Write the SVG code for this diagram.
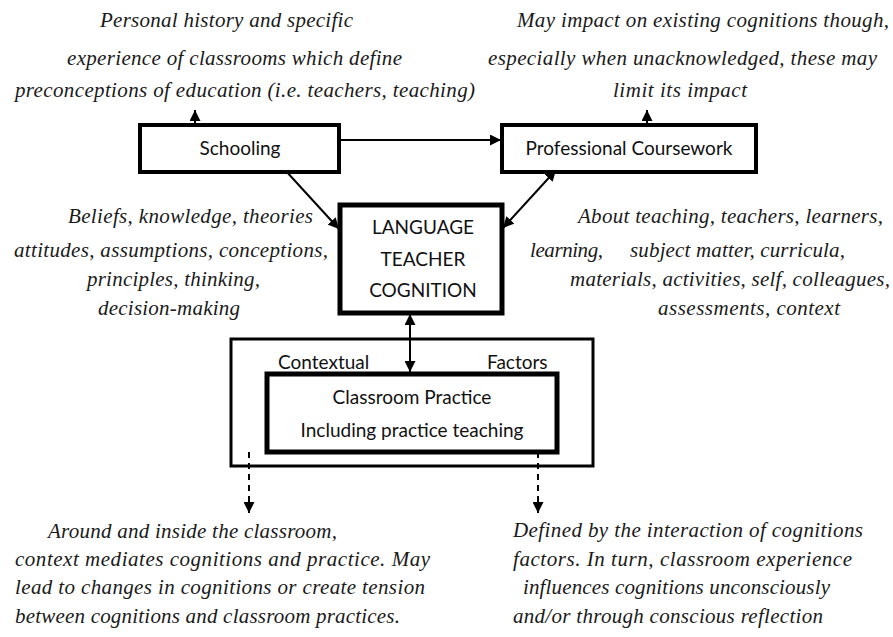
<svg xmlns="http://www.w3.org/2000/svg" width="893" height="637" viewBox="0 0 893 637">
<style>
.box{fill:#fff;stroke:#000}
.sans{font-family:Lato,"Open Sans","Liberation Sans",sans-serif;font-size:19px;fill:#111}
.note{font-family:"Liberation Serif","DejaVu Serif",serif;font-style:italic;font-size:21px;fill:#1a1a1a}
.conn{stroke:#000;stroke-width:2;fill:none}
.dash{stroke:#000;stroke-width:2;fill:none;stroke-dasharray:6,5}
</style>
<defs>
<marker id="ah" markerUnits="userSpaceOnUse" markerWidth="11" markerHeight="11" viewBox="0 0 11 11" refX="11" refY="5.5" orient="auto-start-reverse">
<path d="M0,0 L11,5.5 L0,11 Z" fill="#000"/>
</marker>
</defs>
<rect width="893" height="637" fill="#fff"/>

<g id="connectors">
<line class="conn" x1="195" y1="124" x2="195" y2="110" marker-end="url(#ah)"/>
<line class="conn" x1="647" y1="124" x2="647" y2="110" marker-end="url(#ah)"/>
<line class="conn" x1="340" y1="140" x2="501" y2="140" marker-end="url(#ah)"/>
<line class="conn" x1="285" y1="170" x2="339" y2="229" marker-end="url(#ah)"/>
<line class="conn" x1="503" y1="228" x2="556" y2="170" marker-start="url(#ah)" marker-end="url(#ah)"/>
<line class="conn" x1="410" y1="314" x2="410" y2="372" marker-start="url(#ah)" marker-end="url(#ah)"/>
<line class="dash" x1="249" y1="452" x2="249" y2="513" marker-end="url(#ah)"/>
<line class="dash" x1="538" y1="452" x2="538" y2="513" marker-end="url(#ah)"/>
</g>

<g id="schooling">
<rect class="box" x="140" y="125" width="199" height="47" stroke-width="4"/>
<text class="sans" x="240" y="155" text-anchor="middle">Schooling</text>
</g>

<g id="coursework">
<rect class="box" x="502" y="125" width="254" height="47" stroke-width="4"/>
<text class="sans" x="629" y="155" text-anchor="middle">Professional Coursework</text>
</g>

<g id="ltc">
<rect class="box" x="340" y="205" width="162" height="108" stroke-width="5"/>
<text class="sans" x="423" y="234" text-anchor="middle">LANGUAGE</text>
<text class="sans" x="423" y="266" text-anchor="middle">TEACHER</text>
<text class="sans" x="423" y="297" text-anchor="middle">COGNITION</text>
</g>

<g id="context">
<rect x="231" y="339" width="362" height="127" fill="none" stroke="#000" stroke-width="3"/>
<text class="sans" x="278" y="369">Contextual</text>
<text class="sans" x="487" y="369">Factors</text>
</g>

<g id="classroom">
<rect class="box" x="267" y="374" width="290" height="78" stroke-width="5"/>
<text class="sans" x="412" y="404" text-anchor="middle">Classroom Practice</text>
<text class="sans" x="412" y="437" text-anchor="middle">Including practice teaching</text>
</g>

<g id="note-schooling">
<text class="note" x="100" y="27" textLength="253">Personal history and specific</text>
<text class="note" x="67" y="65" textLength="335">experience of classrooms which define</text>
<text class="note" x="15" y="97" textLength="460">preconceptions of education (i.e. teachers, teaching)</text>
</g>

<g id="note-coursework">
<text class="note" x="517" y="27" textLength="372">May impact on existing cognitions though,</text>
<text class="note" x="488" y="65" textLength="389">especially when unacknowledged, these may</text>
<text class="note" x="613" y="97" textLength="134">limit its impact</text>
</g>

<g id="note-cognition-left">
<text class="note" x="68" y="223" textLength="245">Beliefs, knowledge, theories</text>
<text class="note" x="14" y="257" textLength="314">attitudes, assumptions, conceptions,</text>
<text class="note" x="87" y="286" textLength="173">principles, thinking,</text>
<text class="note" x="98" y="315" textLength="142">decision-making</text>
</g>

<g id="note-cognition-right">
<text class="note" x="578" y="223" textLength="305">About teaching, teachers, learners,</text>
<text class="note" x="530" y="257" textLength="73">learning,</text>
<text class="note" x="630" y="257" textLength="215">subject matter, curricula,</text>
<text class="note" x="570" y="286" textLength="320">materials, activities, self, colleagues,</text>
<text class="note" x="658" y="315" textLength="182">assessments, context</text>
</g>

<g id="note-context">
<text class="note" x="48" y="538" textLength="289">Around and inside the classroom,</text>
<text class="note" x="15" y="566" textLength="415">context mediates cognitions and practice. May</text>
<text class="note" x="15" y="594" textLength="410">lead to changes in cognitions or create tension</text>
<text class="note" x="15" y="623" textLength="385">between cognitions and classroom practices.</text>
</g>

<g id="note-practice">
<text class="note" x="513" y="537" textLength="350">Defined by the interaction of cognitions</text>
<text class="note" x="513" y="566" textLength="339">factors. In turn, classroom experience</text>
<text class="note" x="523" y="594" textLength="307">influences cognitions unconsciously</text>
<text class="note" x="513" y="623" textLength="310">and/or through conscious reflection</text>
</g>
</svg>
